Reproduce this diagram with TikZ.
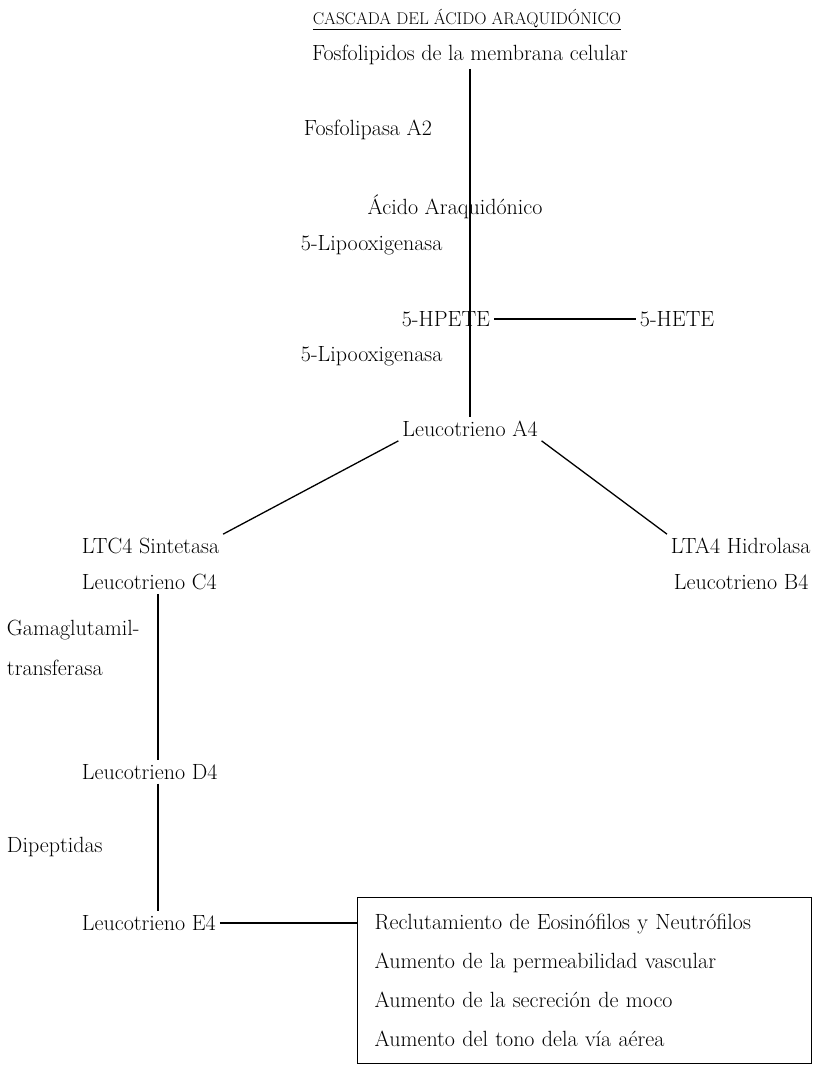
\documentclass[tikz,border=0pt]{standalone}
\usepackage{tikz}

\begin{document}
\begin{tikzpicture}[x=1pt,y=-1pt,line width=1.3pt]

    \tikzstyle{every node}=[font=\fontsize{22}{26}\selectfont]
    \tikzset{izq/.style={anchor=west}}

    \useasboundingbox (0,0) rectangle (829,1067);

    % Titulo
    \node (titulo) at (467,20) {\fontsize{17}{20}\selectfont\underline{CASCADA DEL ÁCIDO ARAQUIDÓNICO}};

    % Rama central
    \node (fosfo) at (470,55) {Fosfolipidos de la membrana celular};
    \node[izq] (fla2) at (300,130) {Fosfolipasa A2};
    \node (acido) at (455,207) {Ácido Araquidónico};
    \node[izq] (lipoa) at (297,245) {5-Lipooxigenasa};
    \node[anchor=east] (hpete) at (494,319) {5-HPETE};
    \node[izq] (hete) at (636,319) {5-HETE};
    \node[izq] (lipob) at (297,356) {5-Lipooxigenasa};
    \node (lta) at (470,429) {Leucotrieno A4};

    % Ramas laterales
    \node[izq] (ltcsint) at (78,546) {LTC4 Sintetasa};
    \node[izq] (ltc) at (78,582) {Leucotrieno C4};
    \node[izq] (ltahidro) at (667,546) {LTA4 Hidrolasa};
    \node[izq] (ltb) at (670,582) {Leucotrieno B4};

    \node[izq] (gama) at (3,630) {Gamaglutamil-};
    \node[izq] (transf) at (3,668) {transferasa};
    \node[izq] (ltd) at (78,772) {Leucotrieno D4};
    \node[izq] (dipep) at (3,847) {Dipeptidas};
    \node[izq] (lte) at (78,923) {Leucotrieno E4};

    % Efectos
    \node[draw, anchor=north west, align=left, text width=420, minimum height=166,
          inner xsep=17, font=\fontsize{22}{39}\selectfont] (efectos) at (357,897)
        {Reclutamiento de Eosinófilos y Neutrófilos\\
         Aumento de la permeabilidad vascular\\
         Aumento de la secreción de moco\\
         Aumento del tono dela vía aérea};

    % Conectores
    \coordinate (eje) at (158,0);
    \draw (fosfo.south) -- (lta.north);
    \draw (hpete.east) -- (hete.west);
    \draw (lta.south west) -- (ltcsint.north east);
    \draw (lta.south east) -- (ltahidro.north west);
    \draw (ltc.south -| eje) -- (ltd.north -| eje);
    \draw (ltd.south -| eje) -- (lte.north -| eje);
    \draw (lte.east) -- (lte.east -| efectos.west);

\end{tikzpicture}
\end{document}
